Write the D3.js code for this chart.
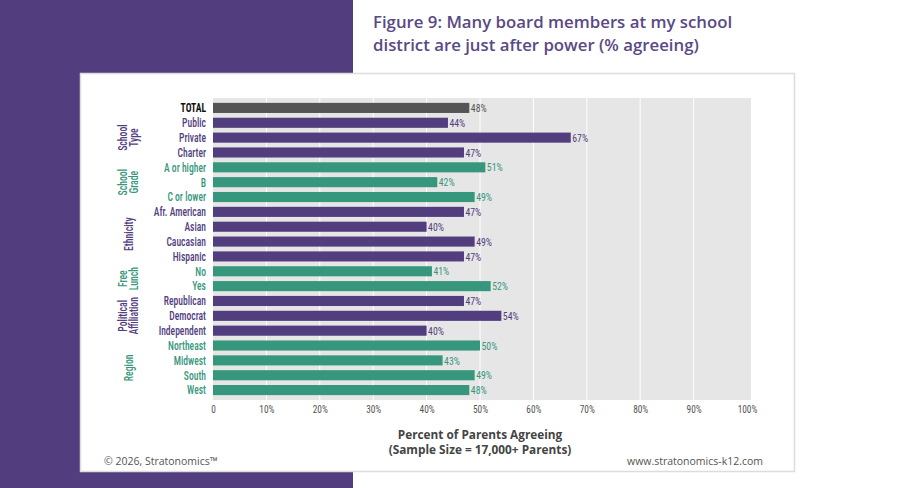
<!DOCTYPE html>
<html>
<head>
<meta charset="utf-8">
<script src="https://cdn.jsdelivr.net/npm/d3@7"></script>
<style>
  body { margin: 0; background: #ffffff; }
  svg { display: block; }
</style>
</head>
<body>
<div id="chart"></div>
<script>
// categories, top to bottom
var categories = ["TOTAL", "Public", "Private", "Charter", "A or higher", "B", "C or lower",
    "Afr. American", "Asian", "Caucasian", "Hispanic", "No", "Yes",
    "Republican", "Democrat", "Independent", "Northeast", "Midwest", "South", "West"];
// percent agreeing
var values = [48, 44, 67, 47, 51, 42, 49, 47, 40, 49, 47, 41, 52, 47, 54, 40, 50, 43, 49, 48];
// group each category belongs to (index into groups)
var groupOf = [-1, 0, 0, 0, 1, 1, 1, 2, 2, 2, 2, 3, 3, 4, 4, 4, 5, 5, 5, 5];
var groups = [["School", "Type"], ["School", "Grade"], ["Ethnicity"], ["Free", "Lunch"],
    ["Political", "Affiliation"], ["Region"]];
var xTicks = [0, 10, 20, 30, 40, 50, 60, 70, 80, 90, 100];

function init() {
    var w = 900, h = 488;
    var purple = "#523e7e", green = "#37977c", dark = "#555555";
    var condensed = "'Roboto Condensed','Liberation Sans Narrow','DejaVu Sans Condensed','Arial Narrow',sans-serif";

    var svg = d3.select("#chart").append("svg")
        .attr("width", w)
        .attr("height", h);

    // purple block behind the card
    svg.append("rect").attr("x", 0).attr("y", 0).attr("width", 353).attr("height", h).attr("fill", purple);

    // title
    var title = svg.append("text")
        .attr("x", 373)
        .attr("y", 28)
        .attr("fill", "#5a4985")
        .style("font-family", "'Open Sans', sans-serif")
        .style("font-weight", 600)
        .style("font-size", "16.8px");
    title.append("tspan").attr("x", 373).text("Figure 9: Many board members at my school");
    title.append("tspan").attr("x", 373).attr("dy", 23).text("district are just after power (% agreeing)");

    // white card
    svg.append("rect")
        .attr("x", 80.5).attr("y", 73.5)
        .attr("width", 714).attr("height", 398)
        .attr("fill", "#ffffff")
        .attr("stroke", "#dcdcdc")
        .attr("stroke-width", 1.5);

    var x = d3.scaleLinear().domain([0, 100]).range([213, 747]);
    var y = d3.scaleBand().domain(categories).range([100.5, 397.5]).paddingInner(0.32).paddingOuter(0.16);

    function colorOf(i) {
        if (groupOf[i] < 0) return dark;
        return groupOf[i] % 2 === 0 ? purple : green;
    }

    // plot background
    svg.append("rect")
        .attr("x", 213).attr("y", 98)
        .attr("width", 538).attr("height", 302)
        .attr("fill", "#e6e6e6");

    // vertical gridlines
    svg.selectAll("line.grid")
        .data(xTicks.slice(1, -1))
        .enter()
        .append("line")
        .attr("class", "grid")
        .attr("x1", function(d) { return x(d); })
        .attr("x2", function(d) { return x(d); })
        .attr("y1", 98)
        .attr("y2", 400)
        .attr("stroke", "#ffffff")
        .attr("stroke-width", 1);

    // bars
    svg.selectAll("rect.bar")
        .data(values)
        .enter()
        .append("rect")
        .attr("class", "bar")
        .attr("x", x(0))
        .attr("y", function(d, i) { return y(categories[i]); })
        .attr("width", function(d) { return x(d) - x(0); })
        .attr("height", y.bandwidth())
        .attr("fill", function(d, i) { return colorOf(i); });

    // value labels (squeezed a bit to look like the condensed face)
    svg.selectAll("text.val")
        .data(values)
        .enter()
        .append("text")
        .attr("class", "val")
        .attr("transform", function(d, i) {
            return "translate(" + (x(d) + 1.5) + "," + (y(categories[i]) + y.bandwidth() / 2) + ") scale(0.85,1)";
        })
        .attr("dy", "0.36em")
        .attr("fill", function(d, i) { return colorOf(i); })
        .style("font-family", condensed)
        .style("font-size", "11.5px")
        .text(function(d) { return d + "%"; });

    // category labels
    svg.selectAll("text.cat")
        .data(categories)
        .enter()
        .append("text")
        .attr("class", "cat")
        .attr("transform", function(d) {
            return "translate(206," + (y(d) + y.bandwidth() / 2) + ") scale(0.8,1)";
        })
        .attr("dy", "0.36em")
        .attr("text-anchor", "end")
        .attr("fill", function(d, i) { return i === 0 ? "#111111" : colorOf(i); })
        .style("font-family", condensed)
        .style("font-weight", function(d, i) { return i === 0 ? 700 : 500; })
        .style("font-size", "12px")
        .text(function(d) { return d; });

    // group labels, rotated
    groups.forEach(function(lines, g) {
        var members = categories.filter(function(c, i) { return groupOf[i] === g; });
        var top = y(members[0]);
        var bottom = y(members[members.length - 1]) + y.bandwidth();
        var cy = (top + bottom) / 2;
        var col = g % 2 === 0 ? purple : green;
        var t = svg.append("text")
            .attr("transform", "translate(128," + cy + ") rotate(-90) scale(0.78,1)")
            .attr("text-anchor", "middle")
            .attr("fill", col)
            .style("font-family", condensed)
            .style("font-weight", 500)
            .style("font-size", "12.5px");
        lines.forEach(function(line, k) {
            var offset = (k - (lines.length - 1) / 2) * 10.5;
            t.append("tspan")
                .attr("x", 0)
                .attr("y", offset)
                .attr("dy", "0.36em")
                .text(line);
        });
    });

    // x axis tick labels
    var axis = d3.axisBottom(x)
        .tickValues(xTicks)
        .tickSize(0)
        .tickPadding(0)
        .tickFormat(function(d) { return d === 0 ? "0" : d + "%"; });
    var gAxis = svg.append("g")
        .attr("transform", "translate(0,405)")
        .call(axis);
    gAxis.select(".domain").remove();
    gAxis.selectAll("text")
        .attr("fill", "#555555")
        .style("font-family", condensed)
        .style("font-size", "11px")
        .attr("transform", "scale(0.85,1)");

    // axis title
    var at = svg.append("text")
        .attr("x", 480)
        .attr("y", 439)
        .attr("text-anchor", "middle")
        .attr("fill", "#444444")
        .style("font-family", "'Open Sans', sans-serif")
        .style("font-weight", 700)
        .style("font-size", "11.8px");
    at.append("tspan").attr("x", 480).text("Percent of Parents Agreeing");
    at.append("tspan").attr("x", 480).attr("dy", 15).text("(Sample Size = 17,000+ Parents)");

    // footer
    svg.append("text")
        .attr("x", 104)
        .attr("y", 465)
        .attr("fill", "#555555")
        .style("font-family", "'Open Sans', sans-serif")
        .style("font-size", "10.5px")
        .text("\u00a9 2026, Stratonomics\u2122");
    svg.append("text")
        .attr("x", 763)
        .attr("y", 465)
        .attr("text-anchor", "end")
        .attr("fill", "#555555")
        .style("font-family", "'Open Sans', sans-serif")
        .style("font-size", "10.5px")
        .text("www.stratonomics-k12.com");
}

window.onload = init;
</script>
</body>
</html>
